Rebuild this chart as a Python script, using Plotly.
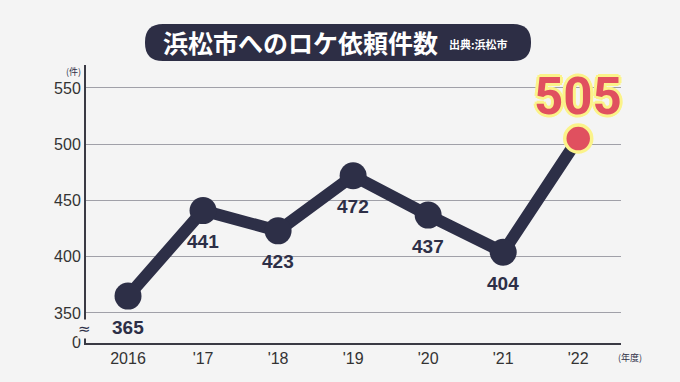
import plotly.graph_objects as go

categories = ["2016", "'17", "'18", "'19", "'20", "'21", "'22"]
values = [365, 441, 423, 472, 437, 404, 505]
ytick_vals = [350, 400, 450, 500, 550]
ytick_text = ["350", "400", "450", "500", "550"]
title_main = "浜松市へのロケ依頼件数"
title_source = "出典:浜松市"

NAVY = "#2d2f47"
RED = "#e0505f"
YELLOW = "#fbf38a"
BG = "#f4f4f4"

W, H = 680, 382
ML, MR, MT, MB = 86, 59, 65, 39
PW, PH = W - ML - MR, H - MT - MB

Y_BOTTOM = 323.3
Y_TOP = 570.4

x_idx = list(range(len(categories)))


def px(xp):
    return (xp - ML) / PW


def py(yp):
    return (H - MB - yp) / PH


fig = go.Figure()
fig.add_trace(go.Scatter(
    x=x_idx, y=values, mode="lines+markers",
    line=dict(color=NAVY, width=12),
    marker=dict(size=27, color=NAVY),
    hoverinfo="skip", showlegend=False, cliponaxis=False,
))
fig.add_trace(go.Scatter(
    x=[x_idx[-1]], y=[values[-1]], mode="markers",
    marker=dict(size=27, color=RED, line=dict(color=YELLOW, width=3.5)),
    hoverinfo="skip", showlegend=False, cliponaxis=False,
))

annotations = []
for i, v in enumerate(values[:-1]):
    annotations.append(dict(
        x=i, y=v, xref="x", yref="y", text=str(v), showarrow=False,
        yshift=-31, font=dict(family="Liberation Sans, Arial", size=19, color=NAVY, weight="bold"),
    ))
outline = ", ".join(f"{YELLOW} {dx}px {dy}px 0" for dx, dy in
                    [(-3, 0), (3, 0), (0, -3), (0, 3), (-2, -2), (2, 2), (-2, 2), (2, -2)])
annotations.append(dict(
    x=x_idx[-1], y=values[-1], xref="x", yref="y", text=str(values[-1]), showarrow=False,
    yshift=42, font=dict(family="Roboto, Liberation Sans", size=51, color=RED, weight="bold", shadow=outline),
))
# axis break mark
annotations.append(dict(
    x=0, y=336.0, xref="paper", yref="y", text="≈", showarrow=False,
    xanchor="center", yanchor="middle", xshift=-2,
    font=dict(family="DejaVu Sans", size=15, color=NAVY), bgcolor=BG, borderpad=0,
))
# unit labels
annotations.append(dict(
    x=0, y=1, xref="paper", yref="paper", text="(件)", showarrow=False,
    xanchor="right", yanchor="middle", xshift=-3, yshift=-6,
    font=dict(family="Noto Sans CJK JP", size=9, color=NAVY),
))
annotations.append(dict(
    x=1, y=0, xref="paper", yref="paper", text="(年度)", showarrow=False,
    xanchor="left", yanchor="middle", xshift=-5, yshift=-14,
    font=dict(family="Noto Sans CJK JP", size=9, color=NAVY),
))
# title
annotations.append(dict(
    x=px(161), y=py(42), xref="paper", yref="paper", text=title_main, showarrow=False,
    xanchor="left", yanchor="middle",
    font=dict(family="Noto Sans CJK JP", size=25, color="white", weight="bold"),
))
annotations.append(dict(
    x=px(447), y=py(44), xref="paper", yref="paper", text=title_source, showarrow=False,
    xanchor="left", yanchor="middle",
    font=dict(family="Noto Sans CJK JP", size=11, color="white", weight="bold"),
))

# pill shape for title (paper coords)
x0, x1, y0, y1 = px(145), px(531), py(61), py(24)
rx = 18 / PW
ry = 18 / PH
path = (f"M {x0+rx},{y0} L {x1-rx},{y0} Q {x1},{y0} {x1},{y0+ry} L {x1},{y1-ry} "
        f"Q {x1},{y1} {x1-rx},{y1} L {x0+rx},{y1} Q {x0},{y1} {x0},{y1-ry} "
        f"L {x0},{y0+ry} Q {x0},{y0} {x0+rx},{y0} Z")

fig.update_layout(
    width=W, height=H,
    margin=dict(l=ML, r=MR, t=MT, b=MB),
    paper_bgcolor=BG, plot_bgcolor=BG,
    annotations=annotations,
    shapes=[dict(type="path", path=path, xref="paper", yref="paper",
                 fillcolor="#2d2e45", line=dict(width=0), layer="above")],
    xaxis=dict(
        range=[-0.56, 6.57], tickmode="array", tickvals=x_idx, ticktext=categories,
        showgrid=False, zeroline=False, showline=True, linecolor="#3a3a44", linewidth=2,
        ticks="", tickfont=dict(family="Liberation Sans, Arial", size=16, color="#333"),
    ),
    yaxis=dict(
        range=[Y_BOTTOM, Y_TOP], tickmode="array",
        tickvals=[Y_BOTTOM + 0.4] + ytick_vals, ticktext=["0"] + ytick_text,
        showgrid=True, gridcolor="#a0a0a8", gridwidth=1, zeroline=False,
        showline=True, linecolor="#3a3a44", linewidth=2, ticks="", ticklabelstandoff=0,
        tickfont=dict(family="Liberation Sans, Arial", size=16, color="#333"),
    ),
)

fig.write_html("out.html", config={"displayModeBar": False},
               post_script="document.body.style.margin='0';document.body.style.background='#f4f4f4';")
